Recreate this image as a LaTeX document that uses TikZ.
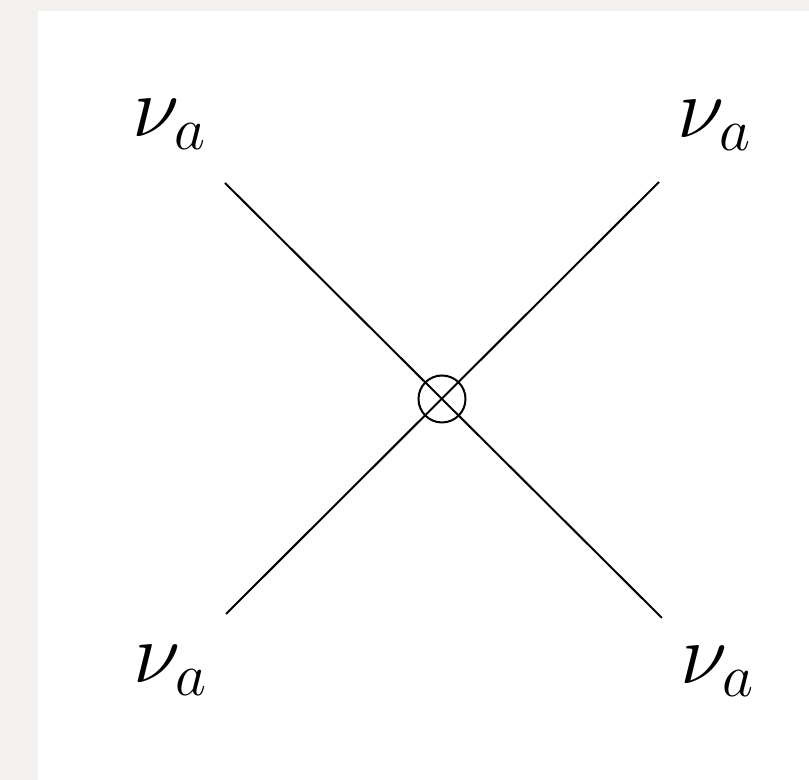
\documentclass[tikz,border=0pt]{standalone}
\usepackage{fix-cm}
\usepackage{amsmath, amssymb}
\usepackage{xcolor}

\definecolor{paper}{HTML}{F3F1EE}

\tikzset{
  leg/.style={line width=1.15pt},
  flavour/.style={inner sep=0pt, anchor=base west, font=\fontsize{49}{59}\selectfont},
}

\begin{document}
\begin{tikzpicture}
  \useasboundingbox (0, 0) rectangle (16.18, 15.6);
  \fill[paper] (0, 0) rectangle (16.18, 15.6);
  \fill[white] (0.76, 0) rectangle (16.18, 15.38);

  \coordinate (v) at (8.84, 7.62);
  \coordinate (tl) at (4.50, 11.94);
  \coordinate (tr) at (13.18, 11.96);
  \coordinate (bl) at (4.52, 3.32);
  \coordinate (br) at (13.24, 3.24);

  \draw[leg] (tl) -- (br);
  \draw[leg] (tr) -- (bl);
  \draw[leg] (v) circle (0.47);

  \node[flavour] (nutl) at (2.64, 12.86) {$\nu_a$};
  \node[flavour] (nutr) at (13.54, 12.84) {$\nu_a$};
  \node[flavour] (nubl) at (2.66, 1.94) {$\nu_a$};
  \node[flavour] (nubr) at (13.60, 1.92) {$\nu_a$};
\end{tikzpicture}
\end{document}
